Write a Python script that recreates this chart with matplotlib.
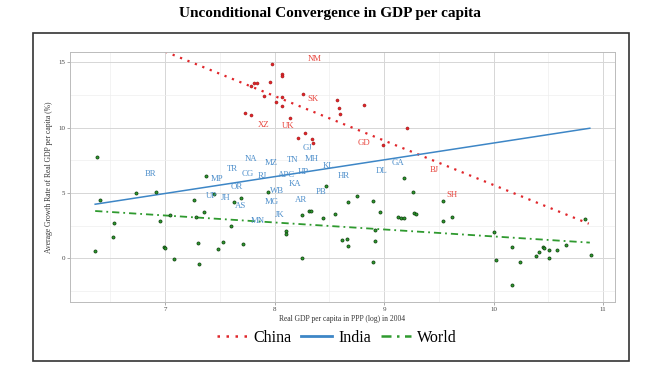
import matplotlib
matplotlib.use("Agg")
import matplotlib.pyplot as plt
from matplotlib.lines import Line2D
from matplotlib.patches import Rectangle

plt.rcParams['font.family'] = ['Liberation Serif', 'DejaVu Serif']

# ---- data ----
china_x = [7.98, 7.78, 7.81, 7.84, 7.96, 8.07, 8.07, 7.90, 8.01, 8.07, 8.07, 8.26,
           7.73, 7.78, 8.14, 8.28, 8.21, 8.34, 8.35, 8.57, 8.59, 8.60, 8.82, 9.21, 8.99]
china_y = [14.89, 13.2, 13.46, 13.46, 13.49, 14.15, 13.99, 12.44, 11.95, 12.38, 11.65, 12.59,
           11.16, 11.0, 10.77, 9.62, 9.19, 9.12, 8.86, 12.13, 11.49, 11.06, 11.77, 10.01, 8.66]

world_x = [6.38, 6.40, 6.36, 6.53, 6.52, 6.73, 6.92, 6.95, 7.04, 6.99, 7.00, 7.08,
           7.26, 7.30, 7.31, 7.28, 7.35, 7.37, 7.45, 7.48, 7.53, 7.60, 7.63, 7.69,
           7.71, 7.94, 8.10, 8.10, 8.25, 8.25, 8.31, 8.33, 8.44, 8.47, 8.55, 8.62,
           8.66, 8.67, 8.67, 9.18, 9.26, 8.75, 8.90, 8.96, 9.13, 9.15, 9.18, 9.27,
           9.29, 9.54, 9.54, 9.62, 8.92, 8.92, 8.90, 10.00, 10.02, 10.17, 10.17, 10.24,
           10.39, 10.42, 10.45, 10.46, 10.51, 10.51, 10.58, 10.66, 10.89, 10.84]
world_y = [7.79, 4.47, 0.56, 2.68, 1.63, 4.98, 5.06, 2.83, 3.32, 0.89, 0.79, -0.03,
           4.47, 1.20, -0.41, 3.17, 3.55, 6.28, 4.93, 0.74, 1.27, 2.50, 4.29, 4.60,
           1.07, 5.06, 2.09, 1.88, 0.0, 3.30, 3.65, 3.60, 3.09, 5.56, 3.39, 1.40,
           1.48, 4.29, 0.92, 6.18, 5.06, 4.80, 4.37, 3.55, 3.19, 3.09, 3.07, 3.45,
           3.39, 4.37, 2.86, 3.17, 2.17, 1.30, -0.28, 2.04, -0.15, 0.87, -2.02, -0.31,
           0.18, 0.46, 0.87, 0.79, 0.61, 0.05, 0.66, 1.00, 0.28, 3.04]

india_labels = ['NA', 'MZ', 'TN', 'MH', 'KL', 'HR', 'BR', 'TR', 'CG', 'RJ', 'APC', 'HP',
                'MP', 'OR', 'UP', 'JH', 'WB', 'KA', 'PB', 'GJ', 'AS', 'MG', 'AR', 'MN',
                'JK', 'DL', 'GA']
india_x = [7.78, 7.97, 8.16, 8.34, 8.49, 8.63, 6.87, 7.61, 7.75, 7.89, 8.11, 8.26,
           7.47, 7.65, 7.42, 7.55, 8.02, 8.19, 8.42, 8.30, 7.69, 7.97, 8.24, 7.85,
           8.05, 8.98, 9.13]
india_y = [7.61, 7.33, 7.53, 7.61, 7.10, 6.31, 6.46, 6.84, 6.44, 6.31, 6.41, 6.64,
           6.10, 5.44, 4.80, 4.62, 5.18, 5.69, 5.06, 8.43, 4.01, 4.29, 4.47, 2.86,
           3.30, 6.71, 7.33]

china_labels = ['NM', 'SK', 'XZ', 'UK', 'GD', 'BJ', 'SH']
china_lab_x = [8.37, 8.35, 7.90, 8.12, 8.82, 9.46, 9.62]
china_lab_y = [15.3, 12.18, 10.21, 10.14, 8.86, 6.77, 4.87]

china_fit_x = [7.0, 10.87]
china_fit_y = [15.83, 2.65]
india_fit_x = [6.36, 10.88]
india_fit_y = [4.14, 9.96]
world_fit_x = [6.36, 10.88]
world_fit_y = [3.62, 1.20]

xticks = [7, 8, 9, 10, 11]
yticks = [0, 5, 10, 15]

RED = '#e0262b'
RED_LAB = '#e8463e'
BLUE = '#3d86c6'
BLUE_LAB = '#4e8fcb'
GREEN = '#2f9a2f'

fig = plt.figure(figsize=(6.6, 3.78), dpi=100)
# outer frame
fig.patches.append(Rectangle((33/660, 1-361/378), (629-33)/660, (361-33)/378,
                             transform=fig.transFigure, fill=False,
                             edgecolor='#333333', linewidth=1.2, zorder=0))
fig.text(330/660, 1-13/378, 'Unconditional Convergence in GDP per capita',
         ha='center', va='center', fontsize=11, fontweight='bold')

ax = fig.add_axes([70/660, 1-302/378, (615-70)/660, (302-52)/378])
ax.set_xlim(6.13, 11.11)
ax.set_ylim(-3.35, 15.8)
ax.set_xticks(xticks)
ax.set_yticks(yticks)
ax.set_xticks([6.5, 7.5, 8.5, 9.5, 10.5], minor=True)
ax.set_yticks([-2.5, 2.5, 7.5, 12.5], minor=True)
ax.grid(True, which='major', color='#d6d6d6', linewidth=0.7, zorder=0)
ax.grid(True, which='minor', color='#eeeeee', linewidth=0.5, zorder=0)
ax.tick_params(which='major', length=2, width=0.5, color='#888888',
               labelsize=5, labelcolor='#444444', pad=1.5)
ax.tick_params(which='minor', length=0)
for s in ax.spines.values():
    s.set_color('#bbbbbb')
    s.set_linewidth(0.7)
ax.set_axisbelow(True)

ax.set_xlabel('Real GDP per capita in PPP (log) in 2004', fontsize=5.5, labelpad=2, color='#333333')
ax.set_ylabel('Average Growth Rate of Real GDP per capita (%)', fontsize=5.5, labelpad=4, color='#333333')

# fits
ax.plot(china_fit_x, china_fit_y, color=RED, linestyle=(0, (1, 2.6)), linewidth=1.6, zorder=2)
ax.plot(india_fit_x, india_fit_y, color=BLUE, linestyle='-', linewidth=1.1, zorder=2)
ax.plot(world_fit_x, world_fit_y, color=GREEN, linestyle=(0, (4, 2.2, 1, 2.2)), linewidth=1.3, zorder=2)

# points
ax.scatter(china_x, china_y, s=5, color=RED, edgecolors='#8a1010', linewidths=0.3, zorder=3)
ax.scatter(world_x, world_y, s=5, color=GREEN, edgecolors='#0a3a0a', linewidths=0.5, zorder=3)

for t, x, y in zip(india_labels, india_x, india_y):
    ax.text(x, y, t, color=BLUE_LAB, fontsize=6.3, ha='center', va='center', zorder=4)
for t, x, y in zip(china_labels, china_lab_x, china_lab_y):
    ax.text(x, y, t, color=RED_LAB, fontsize=6.3, ha='center', va='center', zorder=4)

handles = [Line2D([], [], color=RED, linestyle=(0, (1, 2.6)), linewidth=1.8),
           Line2D([], [], color=BLUE, linestyle='-', linewidth=2.0),
           Line2D([], [], color=GREEN, linestyle=(0, (4, 2.2, 1, 2.2)), linewidth=1.8)]
fig.legend(handles, ['China', 'India', 'World'], loc='center',
           bbox_to_anchor=(337/660, 1-338/378), ncol=3, frameon=False,
           fontsize=11.5, handlelength=1.9, handletextpad=0.4, columnspacing=0.6)

fig.savefig('out.png', dpi=100)
